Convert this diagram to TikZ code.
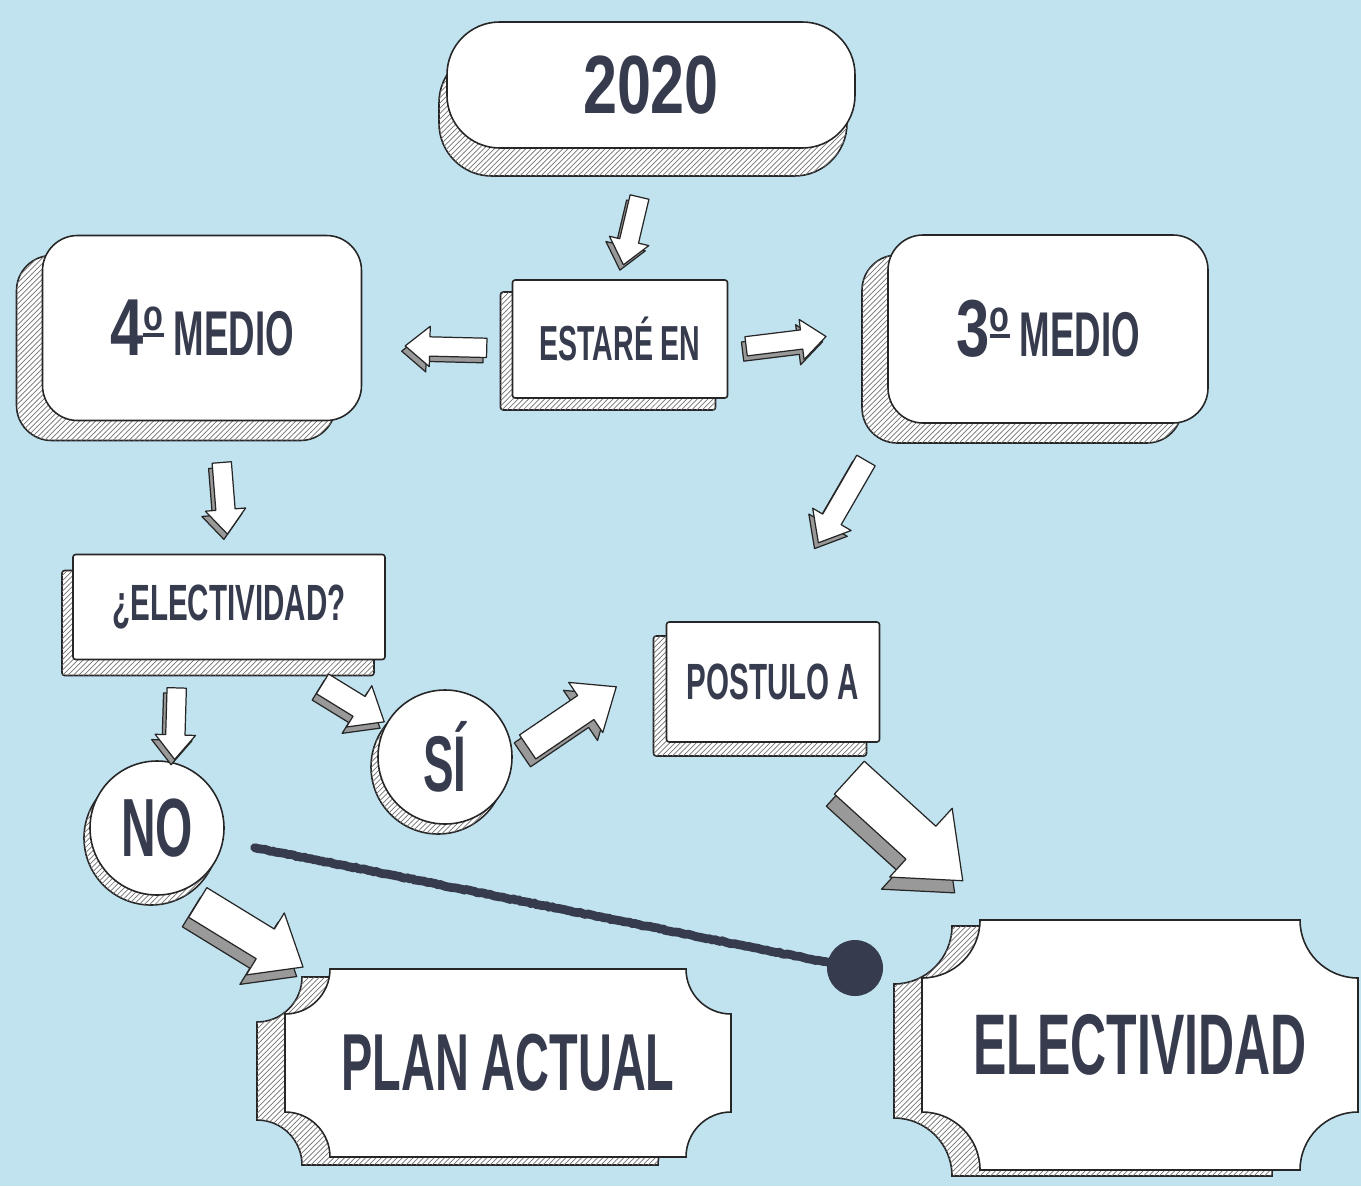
\documentclass[tikz,border=0pt]{standalone}
\usepackage{fontspec}
\usepackage{tikz}
\usetikzlibrary{calc,shadows,patterns,decorations.pathmorphing}
\newfontfamily\bebas[FakeStretch=0.58]{Liberation Sans Bold}
\newfontfamily\bebasnum[FakeStretch=0.74]{Liberation Sans Bold}
\definecolor{sky}{RGB}{193,227,240}
\definecolor{ink}{RGB}{54,59,77}
\newlength\unitpx
\setlength\unitpx{0.02cm}
\newcommand\signtext[2]{{\bebas\fontsize{#1}{#1}\selectfont #2}}
\newcommand\signnum[2]{{\bebasnum\fontsize{#1}{#1}\selectfont #2}}
% underlined ordinal sign
\newcommand\ordo{{\fontsize{25}{25}\selectfont\rlap{\raisebox{10.5pt}{\rule{11.5pt}{2.2pt}}}\raisebox{14.5pt}{o}}}
% size, from, to, start and end fraction
\newcommand\blockarrow[5]{%
  \path let \p1=($(#2)!#4!(#3)$), \p2=($(#2)!#5!(#3)$),
    \n1={atan2(\y2-\y1,\x2-\x1)}, \n2={veclen(\x2-\x1,\y2-\y1)} in
    \pgfextra{\xdef\arx{\x1}\xdef\ary{\y1}\xdef\arang{\n1}\xdef\arlen{\n2}};
  \path[arrowside, x=1pt, y=1pt, shift={(-2*#1,-3*#1)}, shift={(\arx,\ary)}, rotate=\arang]
    (0,5.5*#1) -- (\arlen-14*#1,5.5*#1) -- (\arlen-14*#1,11.5*#1) -- (\arlen,0)
    -- (\arlen-14*#1,-11.5*#1) -- (\arlen-14*#1,-5.5*#1) -- (0,-5.5*#1) -- cycle;
  \path[arrowface, x=1pt, y=1pt, shift={(\arx,\ary)}, rotate=\arang]
    (0,5.5*#1) -- (\arlen-14*#1,5.5*#1) -- (\arlen-14*#1,11.5*#1) -- (\arlen,0)
    -- (\arlen-14*#1,-11.5*#1) -- (\arlen-14*#1,-5.5*#1) -- (0,-5.5*#1) -- cycle;
}
% style, centre, half width, half height, notch
\newcommand\ticket[5]{%
  \path[shift={(#2)}, #1] (-#3+#5,#4) -- (#3-#5,#4)
    arc[start angle=180, end angle=270, radius=#5] -- (#3,-#4+#5)
    arc[start angle=90, end angle=180, radius=#5] -- (-#3+#5,-#4)
    arc[start angle=0, end angle=90, radius=#5] -- (-#3,#4-#5)
    arc[start angle=270, end angle=360, radius=#5] -- cycle;
}
\begin{document}
\begin{tikzpicture}[x=0.02cm, y=0.02cm,
	face/.style={fill=white, draw=black!85, line width=0.9pt, text=ink, inner sep=0pt},
	slab/.style 2 args={
		general shadow={shadow xshift=#1\unitpx, shadow yshift=#2\unitpx, fill=white, draw=black!85, line width=0.9pt},
		general shadow={shadow xshift=#1\unitpx, shadow yshift=#2\unitpx, pattern=north east lines, pattern color=black!55}},
	board/.style={face, rounded corners=20pt},
	card/.style={face, rounded corners=1.5pt},
	coin/.style={face, circle, minimum size=134\unitpx},
	slabfill/.style={fill=white, draw=black!85, line width=0.9pt, postaction={pattern=north east lines, pattern color=black!55}},
	ticketface/.style={fill=white, draw=black!85, line width=0.9pt},
	arrowface/.style={fill=white, draw=black!85, line width=0.7pt, line join=round},
	arrowside/.style={fill=black!40, draw=black!85, line width=0.7pt, line join=round},
	chalk/.style={draw=ink, line width=5pt, line cap=round, decorate,
		decoration={random steps, segment length=1.5pt, amplitude=0.3pt}}]
	\useasboundingbox (0,0) rectangle (1361,-1186);
	\clip (0,0) rectangle (1361,-1186);
	\fill[sky] (0,0) rectangle (1361,-1186);

	\node[board, rounded corners=30pt, slab={-8}{-28}, minimum width=408\unitpx, minimum height=126\unitpx]
		(y2020) at (651,-85) {\signnum{47}{2020}};
	\node[board, slab={-26}{-20}, minimum width=319\unitpx, minimum height=185\unitpx]
		(medio4) at (202,-328) {\signnum{46}{4\ordo}\signtext{36}{\ MEDIO}};
	\node[board, slab={-26}{-20}, minimum width=320\unitpx, minimum height=188\unitpx]
		(medio3) at (1048,-329) {\signnum{46}{3\ordo}\signtext{36}{\ MEDIO}};
	\node[card, slab={-12}{-12}, minimum width=215\unitpx, minimum height=118\unitpx]
		(estare) at (620,-339) {\signtext{28}{ESTARÉ EN}};
	\node[card, slab={-11}{-16}, minimum width=312\unitpx, minimum height=105\unitpx]
		(elq) at (229,-607) {\signtext{29}{¿ELECTIVIDAD?}};
	\node[coin, slab={-6}{-10}] (no) at (157,-828) {\signtext{47}{NO}};
	\node[coin, slab={-7}{-10}] (si) at (445,-757) {\signtext{45}{SÍ}};
	\node[card, slab={-13}{-14}, minimum width=213\unitpx, minimum height=120\unitpx]
		(postulo) at (773,-682) {\signtext{29}{POSTULO A}};

	% ticket shaped signs
	\coordinate (planc) at (508,-1063);
	\ticket{slabfill, xshift=-28\unitpx, yshift=-8\unitpx}{planc}{223}{94}{45}
	\ticket{ticketface}{planc}{223}{94}{45}
	\node[text=ink, minimum width=446\unitpx, minimum height=188\unitpx] (plan) at (planc) {\signtext{46}{PLAN ACTUAL}};
	\coordinate (electc) at (1140,-1045);
	\ticket{slabfill, xshift=-28\unitpx, yshift=-6\unitpx}{electc}{218}{125}{58}
	\ticket{ticketface}{electc}{218}{125}{58}
	\node[text=ink, minimum width=436\unitpx, minimum height=250\unitpx] (electiv) at (electc) {\signtext{49}{ELECTIVIDAD}};

	\coordinate (dotc) at (855,-968);
	\draw[chalk] ($(no)!.14!(dotc)$) -- (dotc);
	\fill[ink] (dotc) circle[radius=28];

	\blockarrow{1}{y2020.south}{estare.north}{.37}{.89}
	\blockarrow{1}{estare.185}{medio4.-6}{.167}{.713}
	\blockarrow{1}{estare.-5}{medio3.west}{.112}{.615}
	\blockarrow{1}{medio4.-80}{elq.north}{.311}{.852}
	\blockarrow{1.1}{medio3.south west}{postulo.north}{.186}{.603}
	\blockarrow{1}{elq.-134}{no.75}{.27}{.97}
	\blockarrow{1.2}{elq.-44}{si.150}{.375}{.98}
	\blockarrow{1.5}{si.0}{postulo.165}{.097}{.677}
	\blockarrow{2.3}{postulo.-58}{electiv.137}{.197}{.781}
	\blockarrow{1.8}{no.-70}{plan.155}{.14}{.98}
\end{tikzpicture}
\end{document}
